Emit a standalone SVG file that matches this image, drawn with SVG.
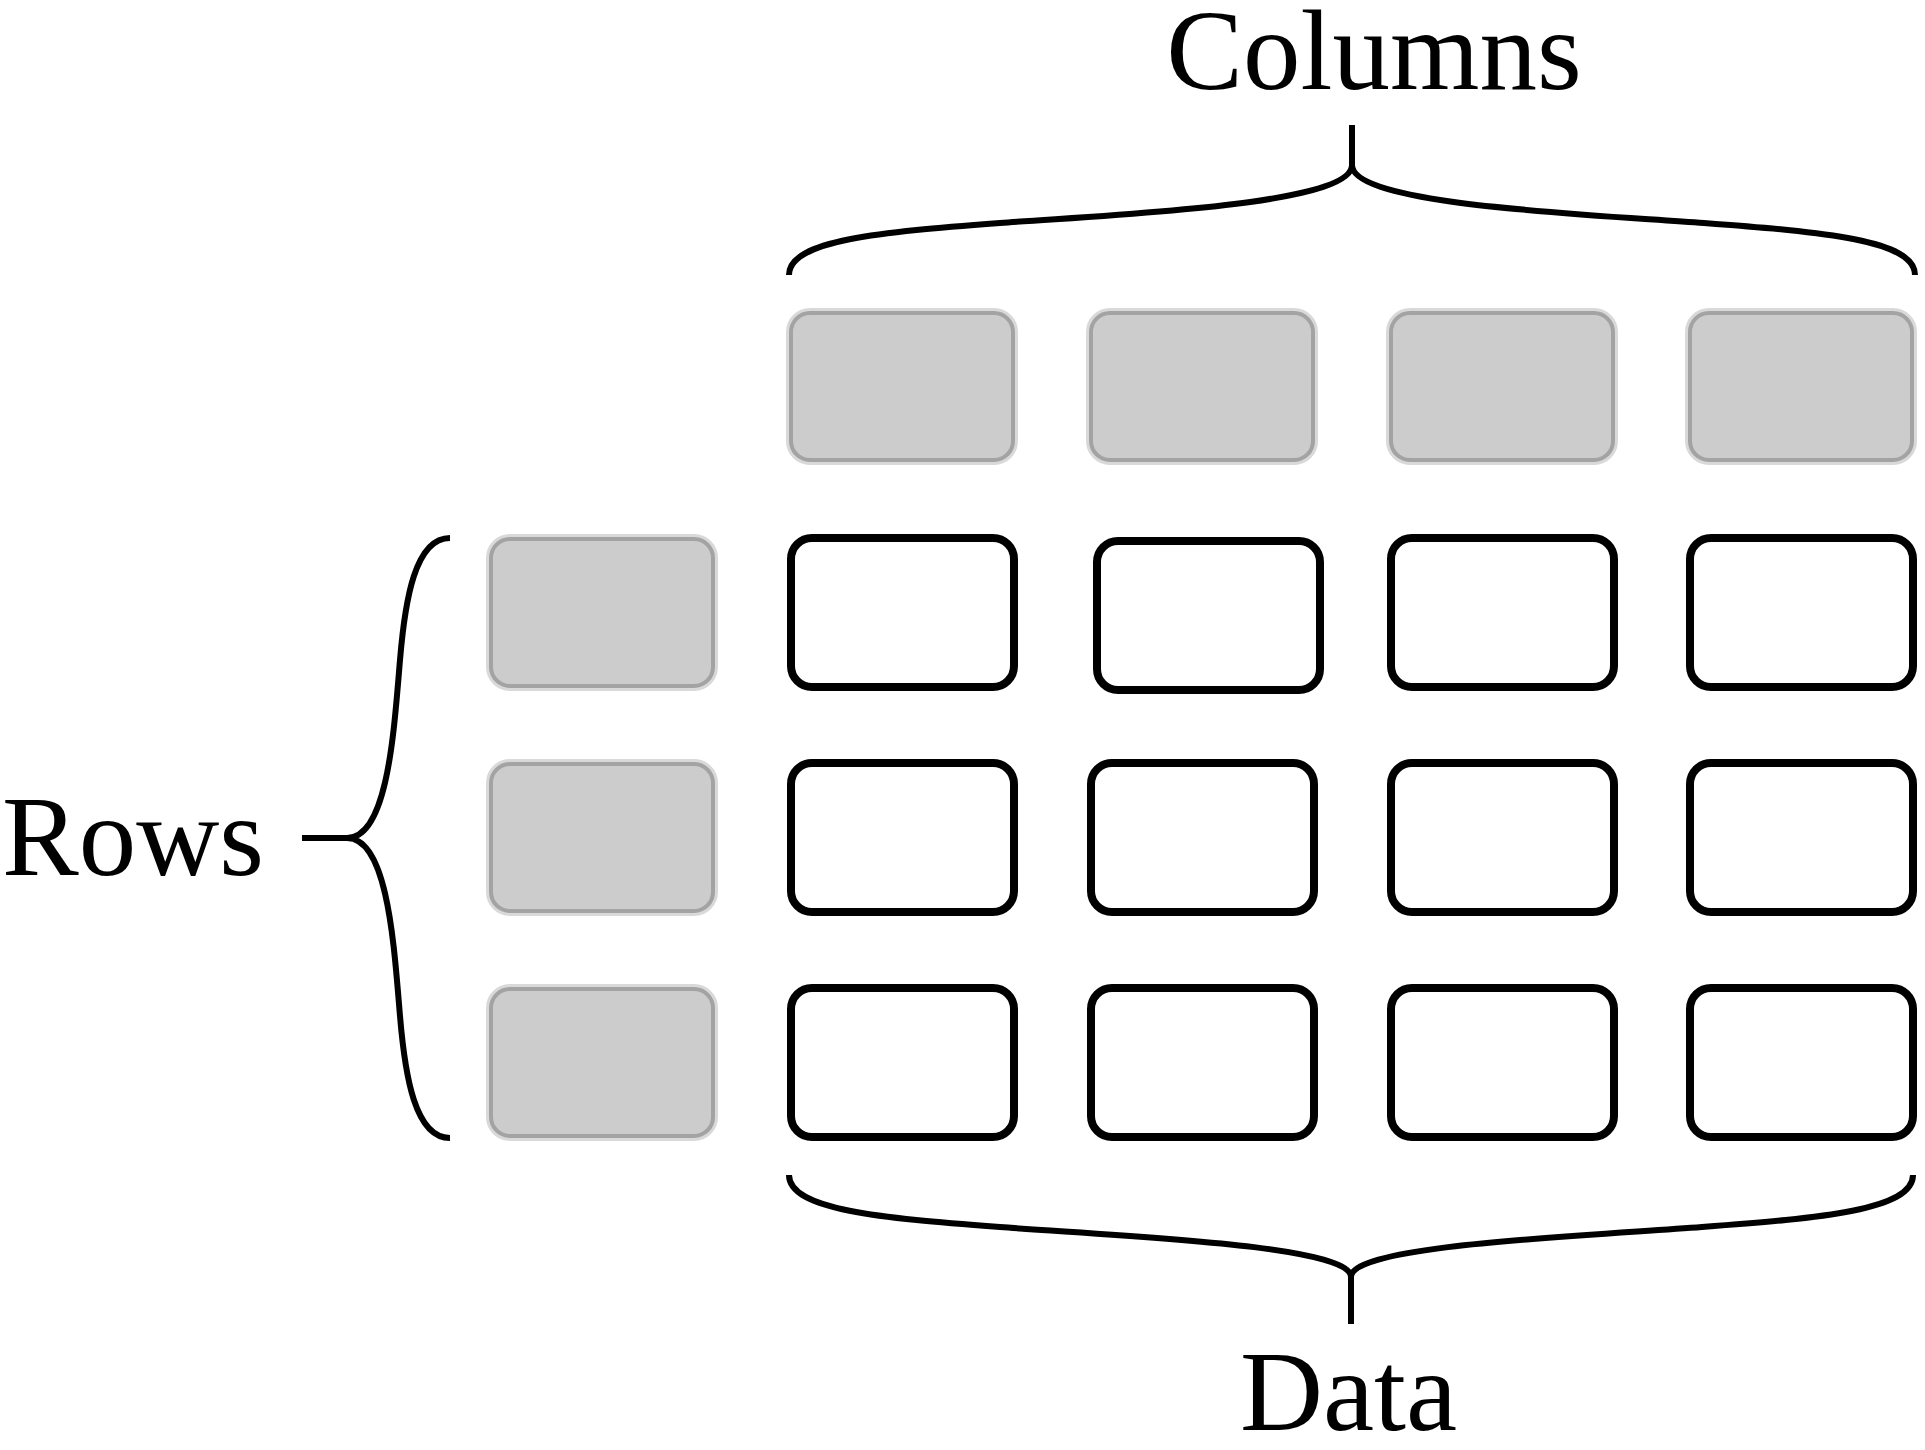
<svg xmlns="http://www.w3.org/2000/svg" width="1925" height="1450" viewBox="0 0 1925 1450">
<style>
.lbl{font-family:"Liberation Serif","Times New Roman",serif;font-size:115px;fill:#000}
.cell{fill:#fff;stroke:#000;stroke-width:8}
.halo{fill:none;stroke:#d9d9d9;stroke-width:10}
.hdr{fill:#cccccc;stroke:#a3a3a3;stroke-width:4}
.brace{fill:none;stroke:#000;stroke-width:6}
</style>
<rect width="1925" height="1450" fill="#fff"/>
<g id="labels">
<text id="label-columns" class="lbl" x="1374" y="89" text-anchor="middle">Columns</text>
<text id="label-rows" class="lbl" x="2" y="875">Rows</text>
<text id="label-data" class="lbl" x="1240" y="1430">Data</text>
</g>
<g id="connectors">
<path class="brace" d="M1352,125 L1352,166 M789,275 C789,240 880,232 1000,223 C1120,214 1352,205 1352,165 C1352,205 1584,214 1704,223 C1824,232 1915,240 1915,275"/>
<path class="brace" d="M1351,1324 L1351,1276 M789,1175 C789,1210 880,1218 1000,1227 C1120,1236 1351,1245 1351,1277 C1351,1245 1582,1236 1702,1227 C1822,1218 1913,1210 1913,1175"/>
<path class="brace" d="M302,838 L348,838 M450,538 C415,538 405,600 400,660 C394,730 388,838 347,838 C388,838 394,946 400,1016 C405,1076 415,1138 450,1138"/>
</g>
<g id="col-header-1"><rect class="halo" x="791" y="313" width="222" height="147" rx="19"/><rect class="hdr" x="791" y="313" width="222" height="147" rx="19"/></g>
<g id="col-header-2"><rect class="halo" x="1091" y="313" width="222" height="147" rx="19"/><rect class="hdr" x="1091" y="313" width="222" height="147" rx="19"/></g>
<g id="col-header-3"><rect class="halo" x="1391" y="313" width="222" height="147" rx="19"/><rect class="hdr" x="1391" y="313" width="222" height="147" rx="19"/></g>
<g id="col-header-4"><rect class="halo" x="1690" y="313" width="222" height="147" rx="19"/><rect class="hdr" x="1690" y="313" width="222" height="147" rx="19"/></g>
<g id="row-header-1"><rect class="halo" x="491" y="539" width="222" height="147" rx="19"/><rect class="hdr" x="491" y="539" width="222" height="147" rx="19"/></g>
<g id="row-header-2"><rect class="halo" x="491" y="764" width="222" height="147" rx="19"/><rect class="hdr" x="491" y="764" width="222" height="147" rx="19"/></g>
<g id="row-header-3"><rect class="halo" x="491" y="989" width="222" height="147" rx="19"/><rect class="hdr" x="491" y="989" width="222" height="147" rx="19"/></g>
<g id="cell-1-1"><rect class="cell" x="791" y="538" width="223" height="149" rx="21"/></g>
<g id="cell-1-2"><rect class="cell" x="1097" y="541" width="223" height="149" rx="21"/></g>
<g id="cell-1-3"><rect class="cell" x="1391" y="538" width="223" height="149" rx="21"/></g>
<g id="cell-1-4"><rect class="cell" x="1690" y="538" width="223" height="149" rx="21"/></g>
<g id="cell-2-1"><rect class="cell" x="791" y="763" width="223" height="149" rx="21"/></g>
<g id="cell-2-2"><rect class="cell" x="1091" y="763" width="223" height="149" rx="21"/></g>
<g id="cell-2-3"><rect class="cell" x="1391" y="763" width="223" height="149" rx="21"/></g>
<g id="cell-2-4"><rect class="cell" x="1690" y="763" width="223" height="149" rx="21"/></g>
<g id="cell-3-1"><rect class="cell" x="791" y="988" width="223" height="149" rx="21"/></g>
<g id="cell-3-2"><rect class="cell" x="1091" y="988" width="223" height="149" rx="21"/></g>
<g id="cell-3-3"><rect class="cell" x="1391" y="988" width="223" height="149" rx="21"/></g>
<g id="cell-3-4"><rect class="cell" x="1690" y="988" width="223" height="149" rx="21"/></g>
</svg>
